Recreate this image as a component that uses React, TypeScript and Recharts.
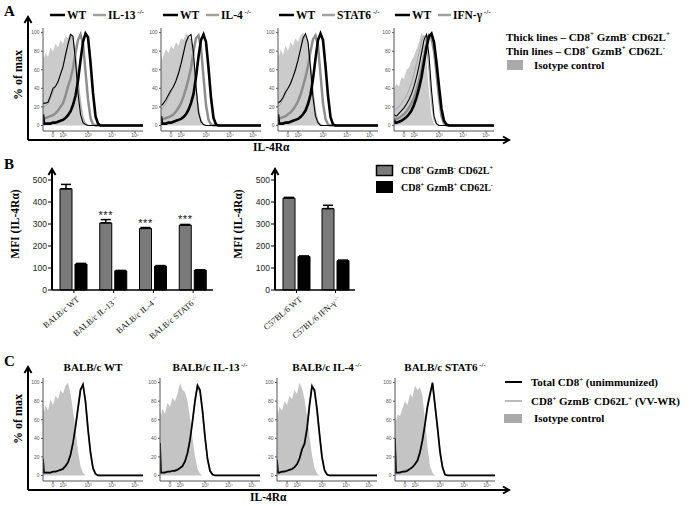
import React from 'react';
import { ComposedChart, Area, Line, XAxis, YAxis, BarChart, Bar, ErrorBar, LabelList } from 'recharts';

// ---------- Histogram data (x = position along the biexponential IL-4Rα axis, 0..100) ----------
const binX = [0, 1, 2.5, 5, 7.5, 10, 12.5, 15, 17.5, 20, 22.5, 25, 27.5, 30, 32.5, 35, 37.5, 40, 42.5, 45, 47.5, 50, 52.5, 55, 57.5, 60, 100];
const histTickPos = [10, 20, 45, 69, 92];
const histTickLabels = ['0', '10²', '10³', '10⁴', '10⁵'];
const pctTicks = [0, 20, 40, 60, 80, 100];

// Panel A1: WT vs IL-13-/-
const a1Iso = [80, 72, 78, 74, 84, 80, 88, 84, 92, 88, 96, 94, 100, 97, 82, 58, 32, 12, 4, 1, 0, 0, 0, 0, 0, 0, 0];
const a1ThinWT = [23, 24, 24, 25, 32, 40, 42, 47, 55, 63, 76, 88, 98, 96, 70, 35, 12, 3, 1, 0, 0, 0, 0, 0, 0, 0, 0];
const a1ThinKO = [20, 20, 21, 23, 29, 36, 42, 48, 56, 64, 75, 86, 95, 93, 76, 48, 22, 8, 2, 0, 0, 0, 0, 0, 0, 0, 0];
const a1ThickWT = [12, 2, 2, 2, 2, 3, 3, 4, 5, 6, 8, 11, 15, 22, 32, 48, 70, 90, 99, 95, 68, 35, 10, 2, 0, 0, 0];
const a1ThickKO = [7, 7, 8, 9, 10, 11, 13, 16, 20, 24, 32, 42, 50, 62, 78, 92, 98, 88, 58, 28, 8, 1, 0, 0, 0, 0, 0];
// Panel A2: WT vs IL-4-/-
const a2Iso = [78, 70, 76, 82, 78, 86, 82, 90, 86, 94, 92, 100, 96, 90, 72, 48, 24, 8, 2, 0, 0, 0, 0, 0, 0, 0, 0];
const a2ThinWT = [22, 22, 24, 28, 33, 38, 42, 48, 56, 66, 78, 90, 96, 98, 78, 42, 14, 4, 1, 0, 0, 0, 0, 0, 0, 0, 0];
const a2ThinKO = [18, 18, 20, 24, 30, 36, 42, 50, 58, 68, 80, 88, 95, 92, 72, 40, 15, 4, 1, 0, 0, 0, 0, 0, 0, 0, 0];
const a2ThickWT = [10, 2, 2, 2, 3, 3, 4, 5, 6, 7, 9, 12, 17, 24, 34, 52, 74, 92, 98, 90, 62, 30, 8, 1, 0, 0, 0];
const a2ThickKO = [6, 6, 7, 8, 9, 10, 12, 15, 19, 24, 31, 40, 50, 62, 80, 94, 97, 84, 52, 22, 6, 1, 0, 0, 0, 0, 0];
// Panel A3: WT vs STAT6-/-
const a3Iso = [80, 74, 82, 76, 86, 80, 90, 86, 94, 90, 97, 100, 95, 86, 66, 40, 18, 6, 2, 0, 0, 0, 0, 0, 0, 0, 0];
const a3ThinWT = [24, 25, 26, 30, 36, 40, 45, 52, 60, 70, 82, 94, 99, 90, 62, 30, 10, 3, 0, 0, 0, 0, 0, 0, 0, 0, 0];
const a3ThinKO = [20, 21, 23, 28, 34, 40, 46, 54, 62, 72, 82, 92, 96, 88, 66, 38, 14, 4, 1, 0, 0, 0, 0, 0, 0, 0, 0];
const a3ThickWT = [12, 2, 2, 2, 3, 3, 4, 5, 6, 7, 9, 12, 16, 23, 33, 50, 72, 92, 99, 92, 64, 32, 9, 1, 0, 0, 0];
const a3ThickKO = [7, 7, 8, 9, 10, 12, 14, 17, 21, 26, 33, 42, 52, 64, 80, 93, 97, 86, 55, 24, 7, 1, 0, 0, 0, 0, 0];
// Panel A4: WT vs IFN-γ-/-
const a4Iso = [38, 42, 45, 42, 52, 50, 60, 62, 70, 75, 82, 90, 100, 95, 70, 35, 10, 2, 0, 0, 0, 0, 0, 0, 0, 0, 0];
const a4ThinWT = [12, 11, 10, 13, 16, 19, 23, 28, 34, 42, 52, 64, 78, 92, 98, 75, 38, 10, 2, 0, 0, 0, 0, 0, 0, 0, 0];
const a4ThinKO = [16, 17, 18, 20, 24, 28, 32, 38, 46, 56, 66, 78, 90, 97, 88, 58, 24, 6, 1, 0, 0, 0, 0, 0, 0, 0, 0];
const a4ThickWT = [6, 3, 3, 4, 5, 7, 9, 12, 16, 22, 30, 40, 52, 68, 84, 96, 99, 90, 68, 42, 18, 5, 1, 0, 0, 0, 0];
const a4ThickKO = [8, 6, 7, 8, 10, 12, 15, 19, 24, 30, 38, 48, 60, 74, 88, 97, 94, 80, 56, 30, 10, 2, 0, 0, 0, 0, 0];

// Panel C: total CD8 (unimmunized) vs CD8+ GzmB- CD62L+ (VV-WR)
const c1Iso = [74, 68, 76, 70, 82, 76, 86, 82, 92, 88, 97, 100, 88, 70, 50, 26, 10, 3, 0, 0, 0, 0, 0, 0, 0, 0, 0];
const c1Total = [18, 3, 3, 3, 3, 4, 4, 5, 6, 7, 10, 14, 22, 35, 52, 72, 92, 98, 80, 50, 25, 8, 2, 0, 0, 0, 0];
const c1Vv = [16, 3, 3, 3, 3, 4, 5, 5, 6, 8, 11, 15, 23, 36, 54, 74, 93, 97, 78, 48, 23, 7, 1, 0, 0, 0, 0];
const c2Iso = [70, 64, 72, 66, 78, 74, 84, 80, 88, 100, 92, 90, 80, 62, 40, 20, 7, 2, 0, 0, 0, 0, 0, 0, 0, 0, 0];
const c2Total = [35, 3, 3, 3, 4, 4, 5, 5, 6, 8, 10, 15, 24, 38, 58, 80, 97, 92, 70, 42, 18, 5, 1, 0, 0, 0, 0];
const c2Vv = [32, 3, 3, 4, 4, 5, 5, 6, 7, 8, 11, 16, 25, 40, 60, 82, 96, 90, 68, 40, 17, 5, 1, 0, 0, 0, 0];
const c3Iso = [72, 66, 74, 70, 80, 76, 86, 82, 92, 88, 100, 94, 82, 64, 42, 22, 8, 2, 0, 0, 0, 0, 0, 0, 0, 0, 0];
const c3Total = [17, 3, 3, 4, 4, 5, 6, 7, 9, 12, 18, 28, 34, 50, 75, 96, 92, 72, 45, 20, 6, 1, 0, 0, 0, 0, 0];
const c3Vv = [15, 3, 3, 4, 5, 5, 6, 7, 9, 13, 19, 29, 36, 53, 78, 97, 90, 68, 42, 18, 5, 1, 0, 0, 0, 0, 0];
const c4Iso = [62, 58, 66, 64, 72, 80, 76, 88, 84, 97, 92, 95, 85, 60, 30, 10, 3, 0, 0, 0, 0, 0, 0, 0, 0, 0, 0];
const c4Total = [40, 3, 3, 3, 4, 4, 5, 7, 9, 12, 16, 25, 38, 55, 74, 87, 100, 76, 52, 26, 9, 1, 0, 0, 0, 0, 0];
const c4Vv = [36, 3, 3, 4, 4, 5, 6, 7, 9, 13, 17, 26, 40, 57, 76, 89, 98, 74, 50, 24, 8, 1, 0, 0, 0, 0, 0];

// ---------- Bar chart data (MFI of IL-4Rα) ----------
const balbStrains = ['BALB/c WT', 'BALB/c IL-13', 'BALB/c IL-4', 'BALB/c STAT6'];
const balbKO = [false, true, true, true];
const balbGzNeg = [460, 305, 280, 295];
const balbGzNegErr = [20, 15, 4, 3];
const balbGzPos = [118, 87, 108, 90];
const balbGzPosErr = [3, 2, 3, 2];
const balbSig = ['', '***', '***', '***'];

const b6Strains = ['C57BL/6 WT', 'C57BL/6 IFN-γ'];
const b6KO = [false, true];
const b6GzNeg = [418, 370];
const b6GzNegErr = [3, 15];
const b6GzPos = [152, 133];
const b6GzPosErr = [3, 3];
const b6Sig = ['', ''];

const mfiTicks = [0, 100, 200, 300, 400, 500];

const SERIF = 'Liberation Serif, Times New Roman, serif';
const SANS = 'Liberation Sans, Arial, sans-serif';

// ---------- Helpers ----------
function parseSup(s: string) {
  const parts = s.split(/\^\{([^}]*)\}/);
  return parts.map((t, i) => ({ t, sup: i % 2 === 1 })).filter((p) => p.t.length > 0);
}

function SupText({ x, y, text, size, anchor = 'start', weight = 700, family = SERIF, fill = '#000', transform }: any) {
  const segs = parseSup(text);
  const shift = size * 0.4;
  let prevSup = false;
  return (
    <text x={x} y={y} fontSize={size} fontFamily={family} fontWeight={weight} fill={fill} textAnchor={anchor} transform={transform}>
      {segs.map((s, i) => {
        let dy: number | undefined;
        if (s.sup && !prevSup) dy = -shift;
        if (!s.sup && prevSup) dy = shift;
        prevSup = s.sup;
        return (
          <tspan key={i} dy={dy} fontSize={s.sup ? size * 0.62 : undefined}>
            {s.t}
          </tspan>
        );
      })}
    </text>
  );
}

type HSeries = { key: string; values: number[]; kind: 'area' | 'line'; color: string; width?: number };

function Histogram({ left, top, series }: { left: number; top: number; series: HSeries[] }) {
  const rows = binX.map((x, i) => {
    const r: any = { x };
    series.forEach((s) => {
      r[s.key] = s.values[i];
    });
    return r;
  });
  return (
    <div style={{ position: 'absolute', left: left - 18, top: top - 2 }}>
      <ComposedChart width={120} height={115} data={rows} margin={{ top: 2, right: 2, bottom: 0, left: 0 }}>
        <XAxis
          dataKey="x"
          type="number"
          domain={[0, 100]}
          allowDataOverflow
          ticks={histTickPos}
          interval={0}
          tickFormatter={(v: number) => histTickLabels[histTickPos.indexOf(v)]}
          height={10}
          tickSize={2}
          tickMargin={0.5}
          tick={{ fontSize: 5, fill: '#555', fontFamily: SANS }}
          axisLine={{ stroke: '#555' }}
          tickLine={{ stroke: '#555' }}
        />
        <XAxis xAxisId="top" orientation="top" height={0} tick={false} tickLine={false} axisLine={{ stroke: '#555' }} />
        <YAxis
          type="number"
          domain={[-6, 105]}
          allowDataOverflow
          ticks={pctTicks}
          interval={0}
          width={18}
          tickSize={2}
          tickMargin={1.5}
          tick={{ fontSize: 5, fill: '#555', fontFamily: SANS }}
          axisLine={{ stroke: '#555' }}
          tickLine={{ stroke: '#555' }}
        />
        <YAxis yAxisId="right" orientation="right" width={0} tick={false} tickLine={false} axisLine={{ stroke: '#555' }} />
        {series.map((s) =>
          s.kind === 'area' ? (
            <Area key={s.key} dataKey={s.key} type="linear" fill={s.color} fillOpacity={1} stroke="none" baseValue={0} isAnimationActive={false} dot={false} activeDot={false} />
          ) : (
            <Line key={s.key} dataKey={s.key} type="linear" stroke={s.color} strokeWidth={s.width} dot={false} activeDot={false} isAnimationActive={false} />
          )
        )}
      </ComposedChart>
    </div>
  );
}

function aSeries(iso: number[], thickKO: number[], thinKO: number[], thinWT: number[], thickWT: number[]): HSeries[] {
  return [
    { key: 'iso', values: iso, kind: 'area', color: '#cbcbcb' },
    { key: 'thickKO', values: thickKO, kind: 'line', color: '#8e8e8e', width: 2.5 },
    { key: 'thinKO', values: thinKO, kind: 'line', color: '#a6a6a6', width: 1 },
    { key: 'thinWT', values: thinWT, kind: 'line', color: '#000', width: 1.1 },
    { key: 'thickWT', values: thickWT, kind: 'line', color: '#000', width: 2.6 },
  ];
}

function cSeries(iso: number[], vv: number[], total: number[]): HSeries[] {
  return [
    { key: 'iso', values: iso, kind: 'area', color: '#c4c4c4' },
    { key: 'vv', values: vv, kind: 'line', color: '#9a9a9a', width: 1.6 },
    { key: 'total', values: total, kind: 'line', color: '#000', width: 1.7 },
  ];
}

const B_PLOT_H = 110;
const B_MAX = 500;

function MfiBars({ left, width, names, ko, gzNeg, gzNegErr, gzPos, gzPosErr, sig }: any) {
  const rows = names.map((name: string, i: number) => ({
    name,
    gz: gzNeg[i],
    gzErr: [0, gzNegErr[i]],
    bk: gzPos[i],
    bkErr: [0, gzPosErr[i]],
    sig: sig[i],
  }));
  const CatTick = (p: any) => {
    const { x, y, payload } = p;
    const idx = names.indexOf(payload.value);
    const txt = payload.value + (ko[idx] ? '^{ -/-}' : '');
    return (
      <g transform={`translate(${x + 4},${y + 3}) rotate(-40)`}>
        <SupText x={0} y={3} text={txt} size={8.5} anchor="end" weight={400} fill="#111" />
      </g>
    );
  };
  const StarLabel = (p: any) => {
    const vb = p.viewBox || {};
    const x = p.x ?? vb.x;
    const y = p.y ?? vb.y;
    const w = p.width ?? vb.width;
    const idx = p.index;
    if (!p.value) return null;
    const errPx = (gzNegErr[idx] * B_PLOT_H) / B_MAX;
    return (
      <text x={x + w / 2} y={y - errPx - 1} textAnchor="middle" fontSize={11} fontFamily={SANS} letterSpacing={0.6} fill="#111">
        {p.value}
      </text>
    );
  };
  return (
    <div style={{ position: 'absolute', left, top: 170 }}>
      <BarChart width={width} height={185} data={rows} margin={{ top: 10, right: 5, left: 0, bottom: 0 }} barGap={3}>
        <XAxis
          dataKey="name"
          height={65}
          interval={0}
          padding={{ left: 2, right: 0 }}
          tick={<CatTick />}
          tickSize={3}
          axisLine={{ stroke: '#000', strokeWidth: 1.5 }}
          tickLine={{ stroke: '#000' }}
        />
        <YAxis
          type="number"
          domain={[0, B_MAX]}
          ticks={mfiTicks}
          interval={0}
          width={52}
          tickSize={4}
          tickMargin={1}
          tick={{ fontSize: 8.5, fill: '#222', fontFamily: SANS }}
          axisLine={{ stroke: '#000', strokeWidth: 1.5 }}
          tickLine={{ stroke: '#000' }}
        />
        <Bar dataKey="gz" fill="#7a7a7a" stroke="#000" strokeWidth={1} barSize={12} isAnimationActive={false}>
          <ErrorBar dataKey="gzErr" width={5} stroke="#000" strokeWidth={1.5} direction="y" />
          <LabelList dataKey="sig" content={StarLabel} />
        </Bar>
        <Bar dataKey="bk" fill="#000" stroke="#000" strokeWidth={1} barSize={12} isAnimationActive={false}>
          <ErrorBar dataKey="bkErr" width={5} stroke="#000" strokeWidth={1.5} direction="y" />
        </Bar>
      </BarChart>
    </div>
  );
}

function UpArrow({ x, y1, y2 }: { x: number; y1: number; y2: number }) {
  return (
    <g stroke="#000" strokeWidth={2} fill="none">
      <line x1={x} y1={y1} x2={x} y2={y2 + 1} />
      <polyline points={`${x - 3.5},${y2 + 6} ${x},${y2} ${x + 3.5},${y2 + 6}`} strokeLinejoin="miter" />
    </g>
  );
}
function RightArrow({ y, x1, x2 }: { y: number; x1: number; x2: number }) {
  return (
    <g stroke="#000" strokeWidth={2} fill="none">
      <line x1={x1} y1={y} x2={x2 - 1} y2={y} />
      <polyline points={`${x2 - 6},${y - 3.5} ${x2},${y} ${x2 - 6},${y + 3.5}`} />
    </g>
  );
}

const aLefts = [43, 161, 278, 394];
const cLefts = [43, 160, 277, 395];
const aTitleStart = [50, 163, 279, 395];
const aKO = ['IL-13^{ -/-}', 'IL-4^{ -/-}', 'STAT6^{ -/-}', 'IFN-γ^{ -/-}'];
const cTitles = ['BALB/c WT', 'BALB/c IL-13^{ -/-}', 'BALB/c IL-4^{ -/-}', 'BALB/c STAT6^{ -/-}'];

export default function App() {
  const aData = [
    aSeries(a1Iso, a1ThickKO, a1ThinKO, a1ThinWT, a1ThickWT),
    aSeries(a2Iso, a2ThickKO, a2ThinKO, a2ThinWT, a2ThickWT),
    aSeries(a3Iso, a3ThickKO, a3ThinKO, a3ThinWT, a3ThickWT),
    aSeries(a4Iso, a4ThickKO, a4ThinKO, a4ThinWT, a4ThickWT),
  ];
  const cData = [cSeries(c1Iso, c1Vv, c1Total), cSeries(c2Iso, c2Vv, c2Total), cSeries(c3Iso, c3Vv, c3Total), cSeries(c4Iso, c4Vv, c4Total)];
  return (
    <div style={{ position: 'absolute', left: 0, top: 0, width: 689, height: 506, background: '#fff', overflow: 'hidden' }}>
      <MfiBars left={0} width={218} names={balbStrains} ko={balbKO} gzNeg={balbGzNeg} gzNegErr={balbGzNegErr} gzPos={balbGzPos} gzPosErr={balbGzPosErr} sig={balbSig} />
      <MfiBars left={223} width={137} names={b6Strains} ko={b6KO} gzNeg={b6GzNeg} gzNegErr={b6GzNegErr} gzPos={b6GzPos} gzPosErr={b6GzPosErr} sig={b6Sig} />
      {aData.map((s, i) => (
        <Histogram key={'a' + i} left={aLefts[i]} top={28} series={s} />
      ))}
      {cData.map((s, i) => (
        <Histogram key={'c' + i} left={cLefts[i]} top={378} series={s} />
      ))}

      <svg width={689} height={506} style={{ position: 'absolute', left: 0, top: 0, pointerEvents: 'none' }}>
        {/* panel letters */}
        <text x={4} y={16} fontSize={15} fontFamily={SERIF} fontWeight={700}>A</text>
        <text x={4} y={169} fontSize={15} fontFamily={SERIF} fontWeight={700}>B</text>
        <text x={4} y={366} fontSize={15} fontFamily={SERIF} fontWeight={700}>C</text>

        {/* Panel A titles */}
        {aTitleStart.map((sx, i) => (
          <g key={'at' + i}>
            <line x1={sx} y1={15} x2={sx + 15} y2={15} stroke="#000" strokeWidth={2.5} />
            <text x={sx + 17} y={19} fontSize={11.5} fontFamily={SERIF} fontWeight={700}>WT</text>
            <line x1={sx + 43} y1={15} x2={sx + 56} y2={15} stroke="#a0a0a0" strokeWidth={2.5} />
            <SupText x={sx + 58} y={19} text={aKO[i]} size={11.5} />
          </g>
        ))}

        {/* Panel A axes */}
        <UpArrow x={28} y1={140} y2={17} />
        <RightArrow y={140} x1={28} x2={509} />
        <text transform="translate(22,75) rotate(-90)" textAnchor="middle" fontSize={12} fontFamily={SERIF} fontWeight={700}>% of max</text>
        <text x={253} y={150.5} fontSize={11.5} fontFamily={SERIF} fontWeight={700}>IL-4Rα</text>

        {/* Panel A legend */}
        <SupText x={506} y={40.5} text="Thick lines – CD8^{+} GzmB^{-} CD62L^{+}" size={11} />
        <SupText x={506} y={54.5} text="Thin lines – CD8^{+} GzmB^{+} CD62L^{-}" size={11} />
        <rect x={507} y={60} width={16} height={10} fill="#aaaaaa" />
        <text x={534} y={68.5} fontSize={11} fontFamily={SERIF} fontWeight={700}>Isotype control</text>

        {/* Panel B axes arrows and labels */}
        <UpArrow x={52} y1={290} y2={169} />
        <UpArrow x={275} y1={290} y2={169} />
        <text transform="translate(19,224) rotate(-90)" textAnchor="middle" fontSize={11.5} fontFamily={SERIF} fontWeight={700}>MFI (IL-4Rα)</text>
        <text transform="translate(242,224) rotate(-90)" textAnchor="middle" fontSize={11.5} fontFamily={SERIF} fontWeight={700}>MFI (IL-4Rα)</text>

        {/* Panel B legend */}
        <rect x={376.5} y={165.5} width={16} height={10} fill="#7a7a7a" stroke="#000" strokeWidth={1.5} />
        <SupText x={401} y={174} text="CD8^{+} GzmB^{-} CD62L^{+}" size={10} />
        <rect x={376} y={181} width={17} height={12} fill="#000" />
        <SupText x={401} y={191} text="CD8^{+} GzmB^{+} CD62L^{-}" size={10} />

        {/* Panel C titles */}
        {cLefts.map((lx, i) => (
          <SupText key={'ct' + i} x={lx + 50} y={371} text={cTitles[i]} size={11} anchor="middle" />
        ))}

        {/* Panel C axes */}
        <UpArrow x={28} y1={490} y2={367} />
        <RightArrow y={490} x1={28} x2={509} />
        <text transform="translate(22,419) rotate(-90)" textAnchor="middle" fontSize={12} fontFamily={SERIF} fontWeight={700}>% of max</text>
        <text x={250} y={501} fontSize={11.5} fontFamily={SERIF} fontWeight={700}>IL-4Rα</text>

        {/* Panel C legend */}
        <line x1={505} y1={382} x2={522} y2={382} stroke="#000" strokeWidth={2} />
        <SupText x={531} y={386} text="Total CD8^{+} (unimmunized)" size={11} />
        <line x1={505} y1={401} x2={522} y2={401} stroke="#bbbbbb" strokeWidth={2} />
        <SupText x={531} y={405} text="CD8^{+} GzmB^{-} CD62L^{+} (VV-WR)" size={11} />
        <rect x={504} y={414} width={18} height={9} fill="#aaaaaa" />
        <text x={534} y={422} fontSize={11} fontFamily={SERIF} fontWeight={700}>Isotype control</text>
      </svg>
    </div>
  );
}
